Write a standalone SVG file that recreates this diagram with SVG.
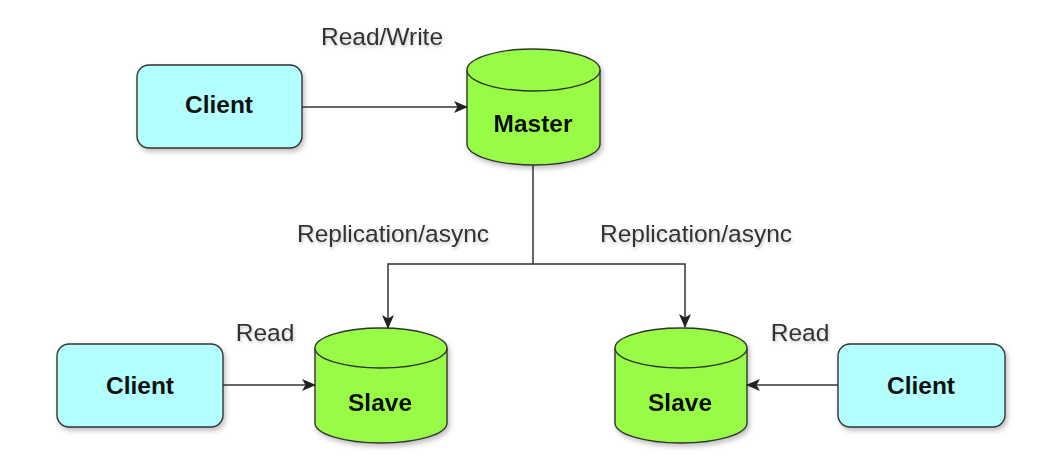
<svg xmlns="http://www.w3.org/2000/svg" width="1064" height="473" viewBox="0 0 1064 473">
<defs>
<filter id="sh" x="-20%" y="-20%" width="150%" height="150%">
<feDropShadow dx="2" dy="3" stdDeviation="2.5" flood-color="#000" flood-opacity="0.25"/>
</filter>
<filter id="tsh" x="-10%" y="-30%" width="130%" height="180%">
<feDropShadow dx="1" dy="2" stdDeviation="1.5" flood-color="#000" flood-opacity="0.22"/>
</filter>
<marker id="arr" viewBox="0 0 14 12" refX="13" refY="6" markerWidth="14" markerHeight="12" markerUnits="userSpaceOnUse" orient="auto">
<path d="M0,0 L14,6 L0,12 L3.5,6 Z" fill="#222"/>
</marker>
</defs>
<style>
.client{fill:#b3ffff;stroke:#333;stroke-width:1.4;filter:url(#sh)}
.cyl{fill:#98fc46;stroke:#333;stroke-width:1.4}
.lbl{font-family:"Liberation Sans",Arial,sans-serif;font-size:24.5px;fill:#333;text-anchor:middle;filter:url(#tsh)}
.nt{font-family:"Liberation Sans",Arial,sans-serif;font-size:24.5px;font-weight:bold;fill:#111;text-anchor:middle}
.edge{fill:none;stroke:#333;stroke-width:1.5}
</style>
<rect width="1064" height="473" fill="#fff"/>
<g id="client-top">
<rect class="client" x="137" y="65" width="165" height="83" rx="12"/>
<text class="nt" x="219" y="113">Client</text>
</g>
<g id="master" filter="url(#sh)">
<path class="cyl" d="M467,70 A66.5,21 0 0 1 600,70 L600,144 A66.5,21 0 0 1 467,144 Z"/>
<path class="cyl" fill="none" d="M467,70 A66.5,21 0 0 0 600,70"/>
<text class="nt" x="533" y="132">Master</text>
</g>
<g id="slave-left" filter="url(#sh)">
<path class="cyl" d="M315,348 A66,20 0 0 1 447,348 L447,423 A66,20 0 0 1 315,423 Z"/>
<path class="cyl" fill="none" d="M315,348 A66,20 0 0 0 447,348"/>
<text class="nt" x="380" y="411">Slave</text>
</g>
<g id="slave-right" filter="url(#sh)">
<path class="cyl" d="M615,348 A66,20 0 0 1 747,348 L747,423 A66,20 0 0 1 615,423 Z"/>
<path class="cyl" fill="none" d="M615,348 A66,20 0 0 0 747,348"/>
<text class="nt" x="680" y="411">Slave</text>
</g>
<g id="client-left">
<rect class="client" x="57" y="344" width="166" height="83" rx="12"/>
<text class="nt" x="140" y="394">Client</text>
</g>
<g id="client-right">
<rect class="client" x="838" y="344" width="167" height="83" rx="12"/>
<text class="nt" x="921" y="394">Client</text>
</g>
<g id="connectors">
<path class="edge" d="M302,107 L467,107" marker-end="url(#arr)"/>
<path class="edge" d="M533,165 L533,264 L388,264 L388,328" marker-end="url(#arr)"/>
<path class="edge" d="M533,264 L685,264 L685,327" marker-end="url(#arr)"/>
<path class="edge" d="M223,385 L315,385" marker-end="url(#arr)"/>
<path class="edge" d="M838,385 L747,385" marker-end="url(#arr)"/>
<text class="lbl" x="382" y="45">Read/Write</text>
<text class="lbl" x="393" y="242">Replication/async</text>
<text class="lbl" x="696" y="242">Replication/async</text>
<text class="lbl" x="265" y="341">Read</text>
<text class="lbl" x="800" y="341">Read</text>
</g>
</svg>
